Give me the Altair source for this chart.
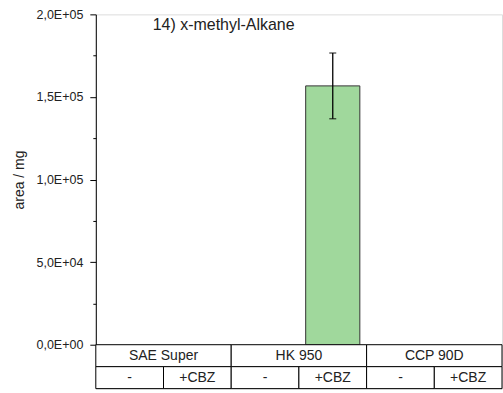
import altair as alt
import pandas as pd

# Sample groups, treatments and measured peak areas (per mg)
groups = ["SAE Super", "HK 950", "CCP 90D"]
treatments = ["-", "+CBZ"]
area_mean = [None, None, None, 156700, None, None]
area_err = [None, None, None, 19900, None, None]
y_ticks = [0, 25000, 50000, 75000, 100000, 125000, 150000, 175000, 200000]
title_text = "14) x-methyl-Alkane"

FONT = "Liberation Sans"
TEXT = "#222222"
W, H, ROW = 407, 331, 22

cells = [f"{g}|{t}" for g in groups for t in treatments]
table = pd.DataFrame({
    "cell": cells,
    "group": [g for g in groups for _ in treatments],
    "treat": [t for _ in groups for t in treatments],
    "mean": area_mean,
    "err": area_err,
})
measured = table.dropna()

x_cell = alt.X(
    "cell:N",
    scale=alt.Scale(domain=cells, paddingInner=0.2, paddingOuter=0.1),
    axis=None,
)

label_expr = (
    "datum.value % 50000 !== 0 ? '' : datum.value === 0 ? '0,0E+00' : "
    "replace(format(datum.value / pow(10, floor(log(datum.value) / LN10 + 1e-9)), '.1f'), '.', ',')"
    " + 'E+0' + floor(log(datum.value) / LN10 + 1e-9)"
)

y_axis = alt.Axis(
    values=y_ticks,
    labelExpr=label_expr,
    tickSize={"condition": {"test": "datum.value % 50000 === 0", "value": 6}, "value": 3},
    tickColor="black",
    domainColor="black",
    grid=False,
    labelFont=FONT,
    labelFontSize=12.5,
    labelColor=TEXT,
    labelPadding=7,
    title="area / mg",
    titleFont=FONT,
    titleFontSize=14,
    titleFontWeight="normal",
    titleColor=TEXT,
    titleX=-76,
    titleY=H / 2,
    titleAngle=270,
    titleAlign="center",
    titleBaseline="middle",
)

base = alt.Chart(measured)

bars = base.mark_bar(color="#a0d89c", stroke="#333333", strokeWidth=1).encode(
    x=x_cell,
    y=alt.Y("mean:Q", scale=alt.Scale(domain=[0, 200000], nice=False), axis=y_axis),
)

errors = base.mark_errorbar(ticks=True, size=7, thickness=1.3, color="black").encode(
    x=x_cell,
    y=alt.Y("mean:Q", title="area / mg"),
    yError="err:Q",
)

heading = alt.Chart(pd.DataFrame({"t": [title_text]})).mark_text(
    font=FONT, fontSize=16, color=TEXT, align="left", baseline="middle"
).encode(x=alt.value(57), y=alt.value(11), text="t:N")

plot = alt.layer(bars, errors, heading).properties(width=W, height=H)

# Category table under the plot: sample row, then treatment row
group_row = alt.Chart(pd.DataFrame({"group": groups})).encode(
    x=alt.X("group:N", scale=alt.Scale(domain=groups, paddingInner=0, paddingOuter=0), axis=None)
)
group_row = alt.layer(
    group_row.mark_rect(fill="white", stroke="black", strokeWidth=1),
    group_row.mark_text(font=FONT, fontSize=14, color=TEXT, baseline="middle").encode(text="group:N"),
).properties(width=W, height=ROW)

treat_row = alt.Chart(table).encode(
    x=alt.X("cell:N", scale=alt.Scale(domain=cells, paddingInner=0, paddingOuter=0), axis=None)
)
treat_row = alt.layer(
    treat_row.mark_rect(fill="white", stroke="black", strokeWidth=1),
    treat_row.mark_text(font=FONT, fontSize=14, color=TEXT, baseline="middle").encode(text="treat:N"),
).properties(width=W, height=ROW)

chart = (
    alt.vconcat(plot, group_row, treat_row, spacing=0, bounds="flush")
    .properties(padding={"left": 12, "top": 7, "right": 0, "bottom": 2})
    .configure_view(strokeWidth=0)
    .configure(background="white")
)

chart.save("out.html", embed_options={"renderer": "svg", "actions": False})
